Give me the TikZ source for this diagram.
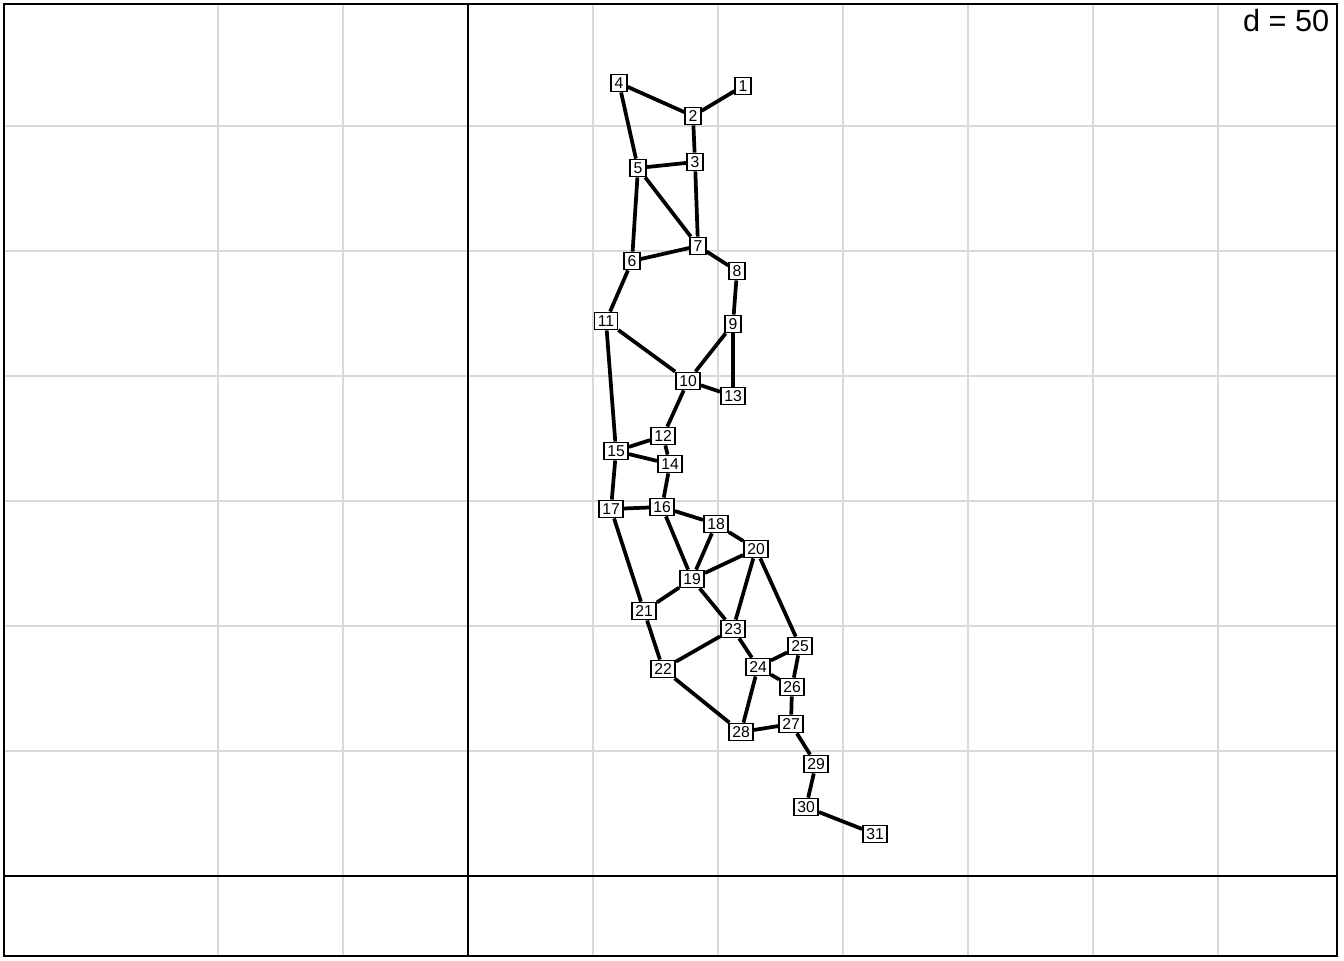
\documentclass[tikz,border=0pt]{standalone}
\usepackage{fontspec}
\setmainfont{Liberation Sans}
\usetikzlibrary{positioning}

\begin{document}
\begin{tikzpicture}[
  x=0.75pt, y=-0.75pt,
  every node/.style={font=\fontsize{11.8}{13}\selectfont},
  vtx/.style={draw, fill=white, line width=1.1pt, inner xsep=2.6pt, inner ysep=0pt,
    minimum height=13pt, text height=8.4pt, text depth=0pt},
  edge/.style={line width=2.8pt},
  gridline/.style={line width=1.3pt, color=black!15},
  axisline/.style={line width=1.5pt}
]
\useasboundingbox (0,0) rectangle (1344,960);

% panel grid
\foreach \gx in {218,343,593,718,843,968,1093,1218}
  \draw[gridline] (\gx,4) -- (\gx,956);
\foreach \gy in {126,251,376,501,626,751}
  \draw[gridline] (4,\gy) -- (1337,\gy);
\draw[axisline] (468,4) -- (468,956);
\draw[axisline] (4,876) -- (1337,876);
\draw[axisline] (4,4) rectangle (1337,956);

\node[anchor=north east, font=\fontsize{23}{26}\selectfont] (dlab) at (1334,5) {d = 50};

% vertices
\node[vtx] (n1) at (743,86) {1};
\node[vtx] (n2) at (693,116) {2};
\node[vtx] (n3) at (695,162) {3};
\node[vtx] (n4) at (619,83) {4};
\node[vtx] (n5) at (638,168) {5};
\node[vtx] (n6) at (632,261) {6};
\node[vtx] (n7) at (698,246) {7};
\node[vtx] (n8) at (737,271) {8};
\node[vtx] (n9) at (733,324) {9};
\node[vtx] (n10) at (688,381) {10};
\node[vtx] (n11) at (606,321) {11};
\node[vtx] (n12) at (663,436) {12};
\node[vtx] (n13) at (733,396) {13};
\node[vtx] (n14) at (670,464) {14};
\node[vtx] (n15) at (616,451) {15};
\node[vtx] (n16) at (662,507) {16};
\node[vtx] (n17) at (611,509) {17};
\node[vtx] (n18) at (716,524) {18};
\node[vtx] (n19) at (692,579) {19};
\node[vtx] (n20) at (756,549) {20};
\node[vtx] (n21) at (644,611) {21};
\node[vtx] (n22) at (663,669) {22};
\node[vtx] (n23) at (733,629) {23};
\node[vtx] (n24) at (758,667) {24};
\node[vtx] (n25) at (800,646) {25};
\node[vtx] (n26) at (792,687) {26};
\node[vtx] (n27) at (791,724) {27};
\node[vtx] (n28) at (741,732) {28};
\node[vtx] (n29) at (816,764) {29};
\node[vtx] (n30) at (806,807) {30};
\node[vtx] (n31) at (875,834) {31};

% edges
\foreach \a/\b in {4/2,2/1,2/3,4/5,5/3,3/7,5/7,5/6,6/7,7/8,8/9,6/11,11/10,10/9,9/13,
  10/13,10/12,11/15,15/12,15/14,12/14,14/16,15/17,17/16,16/18,16/19,18/19,18/20,
  19/20,17/21,21/19,19/23,20/23,20/25,21/22,22/23,23/24,24/25,24/26,25/26,26/27,
  24/28,22/28,28/27,27/29,29/30,30/31}
  \draw[edge] (n\a) -- (n\b);
\end{tikzpicture}
\end{document}
